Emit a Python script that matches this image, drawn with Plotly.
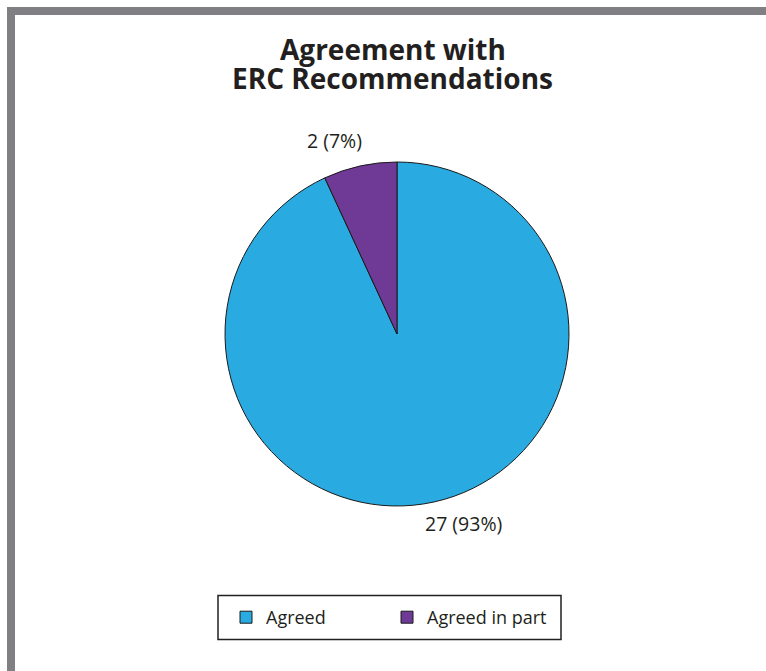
import math
import plotly.graph_objects as go

categories = ["Agreed", "Agreed in part"]
values = [27, 2]
colors = ["#29ABE2", "#6F3996"]
title_lines = ["Agreement with", "ERC Recommendations"]

W, H = 766, 671
cx, cy, r = 397, 334, 172

total = sum(values)
label_texts = [f"{v} ({round(100 * v / total)}%)" for v in values]

fig = go.Figure(go.Pie(
    labels=categories,
    values=values,
    sort=False,
    direction="clockwise",
    rotation=0,
    marker=dict(colors=colors, line=dict(color="#1a1a1a", width=1)),
    textinfo="none",
    domain=dict(x=[(cx - r) / W, (cx + r) / W], y=[1 - (cy + r) / H, 1 - (cy - r) / H]),
    showlegend=True,
    hoverinfo="label+value+percent",
))

# outside labels placed along a line through the centre
label_angle = math.radians(18.5)
label_dist = 202
annotations = []
for i, txt in enumerate(label_texts):
    sgn = 1 if i == 0 else -1  # big slice label below, small slice label above
    px = cx + 2 + sgn * label_dist * math.sin(label_angle)
    py = cy - 2 + sgn * label_dist * math.cos(label_angle)
    annotations.append(dict(
        text=txt, x=px / W, y=1 - py / H, xref="paper", yref="paper",
        xanchor="center", yanchor="middle", showarrow=False,
        font=dict(family="Open Sans", size=19.5, color="#231F20"),
    ))

# title, two tightly spaced lines
title_y = [49, 78]
for line, ty in zip(title_lines, title_y):
    annotations.append(dict(
        text=f"<b>{line}</b>", x=392.5 / W, y=1 - ty / H, xref="paper", yref="paper",
        xanchor="center", yanchor="middle", showarrow=False,
        font=dict(family="Open Sans", size=28, color="#231F20"),
    ))

fig.update_layout(
    width=W, height=H,
    margin=dict(l=0, r=0, t=0, b=0),
    paper_bgcolor="white",
    plot_bgcolor="white",
    legend=dict(
        orientation="h",
        x=226 / W, xanchor="left",
        y=1 - 617.5 / H, yanchor="middle",
        borderwidth=0,
        bgcolor="rgba(0,0,0,0)",
        font=dict(family="Open Sans", size=18, color="#231F20"),
        entrywidth=116,
        traceorder="normal",
    ),
    annotations=annotations,
    shapes=[
        dict(type="rect", xref="paper", yref="paper", x0=7 / W, x1=15 / W, y0=0, y1=1 - 7 / H,
             fillcolor="#808084", line=dict(width=0), layer="above"),
        dict(type="rect", xref="paper", yref="paper", x0=7 / W, x1=1, y0=1 - 15 / H, y1=1 - 7 / H,
             fillcolor="#808084", line=dict(width=0), layer="above"),
        dict(type="rect", xref="paper", yref="paper", x0=218 / W, x1=561 / W,
             y0=1 - 639.5 / H, y1=1 - 595.5 / H,
             fillcolor="rgba(0,0,0,0)", line=dict(color="#231F20", width=1.5), layer="below"),
    ],
)

fig.write_html("out.html", config={"displayModeBar": False},
               post_script="document.body.style.margin='0';")
